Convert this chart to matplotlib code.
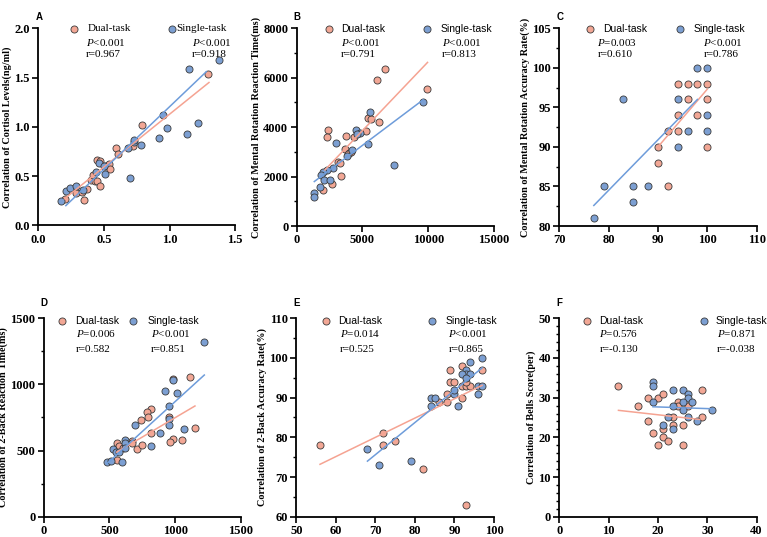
import numpy as np
import matplotlib
matplotlib.use("Agg")
import matplotlib.pyplot as plt
from matplotlib.ticker import MultipleLocator, FormatStrFormatter

plt.rcParams["mathtext.fontset"] = "custom"
plt.rcParams["mathtext.rm"] = "Liberation Serif"
plt.rcParams["mathtext.it"] = "Liberation Serif:italic"

# ---- data ----
# A: cortisol levels (ng/ml)
a_dual_x = [0.20, 0.29, 0.33, 0.35, 0.37, 0.40, 0.42, 0.43, 0.45, 0.47, 0.45, 0.47, 0.51, 0.54, 0.55, 0.59, 0.61, 0.72, 0.79, 1.29]
a_dual_y = [0.27, 0.33, 0.34, 0.26, 0.37, 0.46, 0.51, 0.45, 0.45, 0.40, 0.66, 0.65, 0.60, 0.62, 0.57, 0.79, 0.72, 0.81, 1.02, 1.54]
a_single_x = [0.17, 0.21, 0.24, 0.29, 0.34, 0.44, 0.46, 0.51, 0.50, 0.68, 0.70, 0.73, 0.73, 0.78, 0.92, 0.95, 0.98, 1.13, 1.15, 1.22, 1.38]
a_single_y = [0.25, 0.35, 0.38, 0.40, 0.36, 0.54, 0.63, 0.52, 0.60, 0.78, 0.48, 0.85, 0.87, 0.82, 0.89, 1.12, 0.99, 0.93, 1.59, 1.04, 1.68]
a_fit_dual = ([0.20, 1.30], [0.27, 1.45])
a_fit_single = ([0.21, 1.28], [0.20, 1.56])

# B: mental rotation reaction time (ms)
b_dual_x = [6740, 6130, 9920, 5420, 5630, 6240, 2360, 2280, 3750, 4380, 5290, 3650, 3950, 4100, 3120, 3290, 3350, 2660, 2020, 3900]
b_dual_y = [6360, 5920, 5550, 4360, 4320, 4220, 3890, 3620, 3640, 3620, 3860, 3120, 2950, 3000, 2600, 2540, 2040, 1700, 1460, 2900]
b_single_x = [5570, 4480, 4800, 4600, 2990, 5420, 4180, 3800, 7420, 2740, 2330, 2000, 1870, 2100, 2500, 1770, 1340, 1340, 9620]
b_single_y = [4600, 3890, 3780, 3720, 3350, 3300, 3080, 2830, 2470, 2330, 2280, 2180, 2070, 1860, 1860, 1590, 1350, 1160, 5000]
b_fit_dual = ([2150, 9950], [2270, 6620])
b_fit_single = ([1340, 9620], [1800, 5110])

# C: mental rotation accuracy rate (%)
c_dual_x = [94, 96, 98, 100, 96, 100, 94, 98, 92, 94, 90, 100, 90, 92]
c_dual_y = [98, 98, 98, 98, 96, 96, 94, 94, 92, 92, 90, 90, 88, 85]
c_single_x = [98, 100, 83, 94, 100, 96, 100, 94, 79, 85, 88, 85, 77]
c_single_y = [100, 100, 96, 96, 94, 92, 92, 90, 85, 85, 85, 83, 81]
c_fit_dual = ([90, 100], [90.0, 97.3])
c_fit_single = ([77, 98], [82.6, 96.0])

# D: 2-back reaction time (ms)
d_dual_x = [1110, 980, 813, 783, 793, 742, 816, 955, 1150, 1051, 980, 960, 707, 745, 669, 669, 555, 575, 600, 555]
d_dual_y = [1054, 1041, 814, 792, 754, 731, 633, 755, 668, 580, 587, 565, 512, 540, 575, 555, 557, 537, 520, 431]
d_single_x = [1221, 922, 980, 1011, 950, 950, 955, 692, 884, 1070, 813, 620, 615, 620, 530, 550, 570, 480, 510, 593]
d_single_y = [1317, 953, 1030, 933, 839, 740, 693, 693, 630, 661, 533, 580, 555, 520, 510, 490, 490, 415, 420, 410]
d_fit_dual = ([555, 1150], [488, 837])
d_fit_single = ([480, 1221], [400, 1071])

# E: 2-back accuracy rate (%)
e_dual_x = [56, 72, 72, 75, 82, 93, 86, 88, 88, 89, 89, 90, 92, 92, 92, 93, 94, 93, 97]
e_dual_y = [78, 81, 78, 79, 72, 63, 89, 91, 89, 97, 94, 94, 98, 90, 93, 93, 93, 94, 97]
e_single_x = [68, 71, 79, 84, 85, 84, 91, 90, 90, 94, 93, 93, 92, 94, 93, 97, 96, 97, 96]
e_single_y = [77, 73, 74, 90, 90, 88, 88, 91, 92, 99, 97, 96, 96, 96, 95, 100, 93, 93, 91]
e_fit_dual = ([56, 97], [73.2, 93.1])
e_fit_single = ([68, 97], [74.0, 97.5])

# F: bells score (per)
f_dual_x = [12, 16, 18, 20, 21, 18, 19, 21, 21, 20, 22, 25, 25, 23, 23, 24, 24, 26, 29, 29]
f_dual_y = [33, 28, 30, 30, 31, 24, 21, 22, 20, 18, 19, 18, 23, 23, 25, 29, 28, 28, 32, 25]
f_single_x = [19, 19, 19, 23, 25, 26, 26, 27, 25, 23, 25, 22, 26, 21, 23, 28, 31]
f_single_y = [34, 33, 29, 32, 32, 31, 30, 29, 29, 28, 27, 25, 25, 23, 22, 24, 27]
f_fit_dual = ([12, 28.5], [26.8, 24.5])
f_fit_single = ([19, 31], [27.7, 27.2])

ylabels = [
    "Correlation of Cortisol Levels(ng/ml)",
    "Correlation of Mental Rotation Reaction Time(ms)",
    "Correlation of Mental Rotation Accuracy Rate(%)",
    "Correlation of 2-Back Reaction Time(ms)",
    "Correlation of 2-Back Accuracy Rate(%)",
    "Correlation of Bells Score(per)",
]
panel_letters = ["A", "B", "C", "D", "E", "F"]
dual_stats = [("<0.001", "0.967"), ("<0.001", "0.791"), ("=0.003", "0.610"),
              ("=0.006", "0.582"), ("=0.014", "0.525"), ("=0.576", "-0.130")]
single_stats = [("<0.001", "0.918"), ("<0.001", "0.813"), ("<0.001", "0.786"),
                ("<0.001", "0.851"), ("<0.001", "0.865"), ("=0.871", "-0.038")]

DUAL_FILL = "#F2A795"
SINGLE_FILL = "#7C9FD2"
DUAL_LINE = "#F5A392"
SINGLE_LINE = "#6E9CDA"
EDGE = "#3a3a3a"
SERIF = "Liberation Serif"
SANS = "Liberation Sans"

fig = plt.figure(figsize=(7.67, 5.37), dpi=100)

# axes boxes (left, bottom, width, height) in figure fraction
boxes = [
    [0.0499, 0.5804, 0.2568, 0.3669],
    [0.3868, 0.5791, 0.2572, 0.3682],
    [0.7292, 0.5791, 0.2572, 0.3682],
    [0.0570, 0.0378, 0.2572, 0.3695],
    [0.3863, 0.0378, 0.2577, 0.3695],
    [0.7292, 0.0378, 0.2572, 0.3695],
]
limits = [((0, 1.5), (0, 2.0)), ((0, 15000), (0, 8000)), ((70, 110), (80, 105)),
          ((0, 1500), (0, 1500)), ((50, 100), (60, 110)), ((0, 40), (0, 50))]
steps = [(0.5, 0.5, None), (5000, 2000, 1000), (10, 5, 2.5),
         (500, 500, 250), (10, 10, 5), (10, 10, 2)]
# legend / annotation x positions (axes fraction): marker, text, stats
dual_pos = [(0.18, 0.25, 0.243), (0.164, 0.223, 0.225), (0.156, 0.22, 0.193),
            (0.091, 0.159, 0.164), (0.149, 0.213, 0.221), (0.139, 0.203, 0.203)]
single_pos = [(0.68, 0.70, 0.778), (0.662, 0.728, 0.735), (0.611, 0.679, 0.73),
              (0.454, 0.525, 0.542), (0.688, 0.756, 0.769), (0.733, 0.794, 0.80)]

data = [
    (a_dual_x, a_dual_y, a_single_x, a_single_y, a_fit_dual, a_fit_single),
    (b_dual_x, b_dual_y, b_single_x, b_single_y, b_fit_dual, b_fit_single),
    (c_dual_x, c_dual_y, c_single_x, c_single_y, c_fit_dual, c_fit_single),
    (d_dual_x, d_dual_y, d_single_x, d_single_y, d_fit_dual, d_fit_single),
    (e_dual_x, e_dual_y, e_single_x, e_single_y, e_fit_dual, e_fit_single),
    (f_dual_x, f_dual_y, f_single_x, f_single_y, f_fit_dual, f_fit_single),
]

for i in range(6):
    ax = fig.add_axes(boxes[i])
    dx, dy, sx, sy, fit_d, fit_s = data[i]
    ax.scatter(dx, dy, s=26, c=DUAL_FILL, edgecolors=EDGE, linewidths=0.6, zorder=3, clip_on=False)
    ax.scatter(sx, sy, s=26, c=SINGLE_FILL, edgecolors=EDGE, linewidths=0.6, zorder=3, clip_on=False)
    ax.plot(fit_d[0], fit_d[1], color=DUAL_LINE, lw=1.1, zorder=4)
    ax.plot(fit_s[0], fit_s[1], color=SINGLE_LINE, lw=1.1, zorder=4)

    (x0, x1), (y0, y1) = limits[i]
    ax.set_xlim(x0, x1)
    ax.set_ylim(y0, y1)
    xs, ys, ym = steps[i]
    ax.xaxis.set_major_locator(MultipleLocator(xs))
    ax.yaxis.set_major_locator(MultipleLocator(ys))
    if ym:
        ax.yaxis.set_minor_locator(MultipleLocator(ym))
    if i == 0:
        ax.xaxis.set_major_formatter(FormatStrFormatter("%.1f"))
        ax.yaxis.set_major_formatter(FormatStrFormatter("%.1f"))

    for side in ("top", "right"):
        ax.spines[side].set_visible(False)
    for side in ("left", "bottom"):
        ax.spines[side].set_linewidth(1.3)
    ax.tick_params(which="major", direction="out", length=4, width=1.2, labelsize=9, pad=2)
    ax.tick_params(which="minor", direction="out", length=2.5, width=1.0)
    for lab in ax.get_xticklabels() + ax.get_yticklabels():
        lab.set_fontfamily(SERIF)
        lab.set_fontweight("bold")
    ax.set_ylabel(ylabels[i], fontfamily=SERIF, fontweight="bold", fontsize=7.3, labelpad=1.5)

    top = 0.997 if i < 3 else 0.986
    p_y = 0.926 if i < 3 else 0.921
    r_y = 0.868 if i < 3 else 0.845
    leg_font = SERIF if i == 0 else SANS
    leg_size = 8 if i == 0 else 7.5
    tr = ax.transAxes

    m, t, s = dual_pos[i]
    ax.scatter([m], [top], s=26, c=DUAL_FILL, edgecolors=EDGE, linewidths=0.6,
               transform=tr, clip_on=False, zorder=5)
    ax.text(t, top, "Dual-task", transform=tr, fontfamily=leg_font, fontsize=leg_size, va="center")
    ax.text(s, p_y, "$P$" + dual_stats[i][0], transform=tr, fontfamily=SERIF, fontsize=8, va="center")
    ax.text(s, r_y, "r=" + dual_stats[i][1], transform=tr, fontfamily=SERIF, fontsize=8, va="center")

    m, t, s = single_pos[i]
    ax.scatter([m], [top], s=26, c=SINGLE_FILL, edgecolors=EDGE, linewidths=0.6,
               transform=tr, clip_on=False, zorder=5)
    ax.text(t, top, "Single-task", transform=tr, fontfamily=leg_font, fontsize=leg_size, va="center")
    ax.text(s, p_y, "$P$" + single_stats[i][0], transform=tr, fontfamily=SERIF, fontsize=8, va="center")
    ax.text(s, r_y, "r=" + single_stats[i][1], transform=tr, fontfamily=SERIF, fontsize=8, va="center")

    lab_y = 1.057 if i < 3 else 1.076
    ax.text(-0.015, lab_y, panel_letters[i], transform=tr, fontfamily=SANS,
            fontweight="bold", fontsize=7, va="center")

fig.savefig("out.png", dpi=100)
